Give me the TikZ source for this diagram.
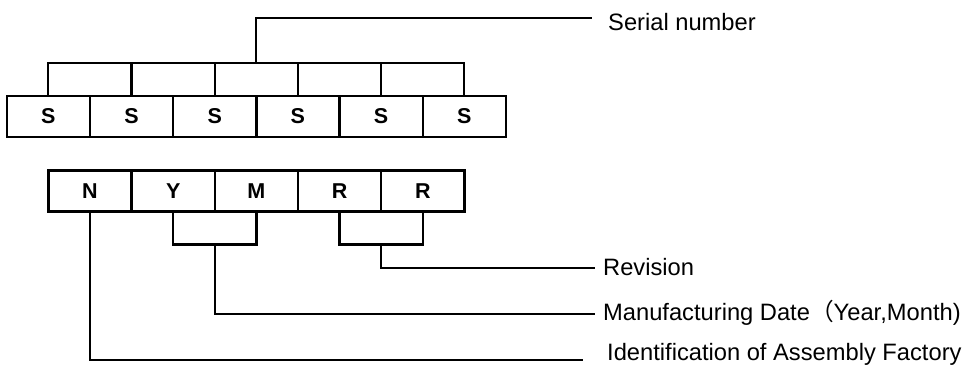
\documentclass[tikz,border=0pt]{standalone}
\usepackage{fontspec}
\setmainfont{Liberation Sans}
\newfontfamily\cjk{Noto Sans CJK SC}
\usetikzlibrary{chains}
\tikzstyle{Link}=[line width=2.3pt]

\begin{document}
\begin{tikzpicture}[
  x=1pt, y=-1pt,
  node distance = 0,
  Box/.style={draw, line width=2.4pt, minimum width=83.2pt, minimum height=41pt, outer sep=0,
    font=\fontsize{21.5}{23}\selectfont\bfseries},
  Label/.style={anchor=base west, inner sep=0, font=\fontsize{23.7}{26}\selectfont}
]
\useasboundingbox (0,0) rectangle (970,378);

\begin{scope}[start chain=top going right]
\node[Box,on chain=top] (s1) at (48.3,116.2) {S};
\node[Box,on chain=top] (s2) {S};
\node[Box,on chain=top] (s3) {S};
\node[Box,on chain=top] (s4) {S};
\node[Box,on chain=top] (s5) {S};
\node[Box,on chain=top] (s6) {S};
\end{scope}

\begin{scope}[start chain=bot going right]
\node[Box,on chain=bot] (n) at (90,190.8) {N};
\node[Box,on chain=bot] (y) {Y};
\node[Box,on chain=bot] (m) {M};
\node[Box,on chain=bot] (r1) {R};
\node[Box,on chain=bot] (r2) {R};
\end{scope}

\node[Label] (serial) at (608,30) {Serial number};
\node[Label] (rev) at (603,275) {Revision};
\node[Label] (date) at (603,320) {Manufacturing Date{\cjk （}Year,Month)};
\node[Label] (factory) at (607,360) {Identification of Assembly Factory};

\coordinate (comb) at ([yshift=33pt]s1.north);
\coordinate (serialend) at ([xshift=-16pt,yshift=12pt]serial.base west);
\coordinate (revend) at ([xshift=-8pt,yshift=7pt]rev.base west);
\coordinate (dateend) at ([xshift=-8pt,yshift=6pt]date.base west);
\coordinate (factoryend) at ([xshift=-24pt]factory.base west);

\draw[Link] (s1.north) -- (comb) -- (comb -| s6.north) -- (s6.north);
\foreach \i in {2,...,5}
  \draw[Link] (s\i.north) -- (s\i.north |- comb);
\draw[Link] (s3.north east |- comb) |- (serialend);

\draw[Link] (y.south) -- ++(0,33.3) -| (m.south);
\draw[Link] (r1.south) -- ++(0,33.3) -| (r2.south);
\coordinate (ymjoin) at ([yshift=-33.3pt]y.south east);
\coordinate (rrjoin) at ([yshift=-33.3pt]r1.south east);
\draw[Link] (ymjoin) |- (dateend);
\draw[Link] (rrjoin) |- (revend);
\draw[Link] (n.south) |- (factoryend);

\end{tikzpicture}
\end{document}
